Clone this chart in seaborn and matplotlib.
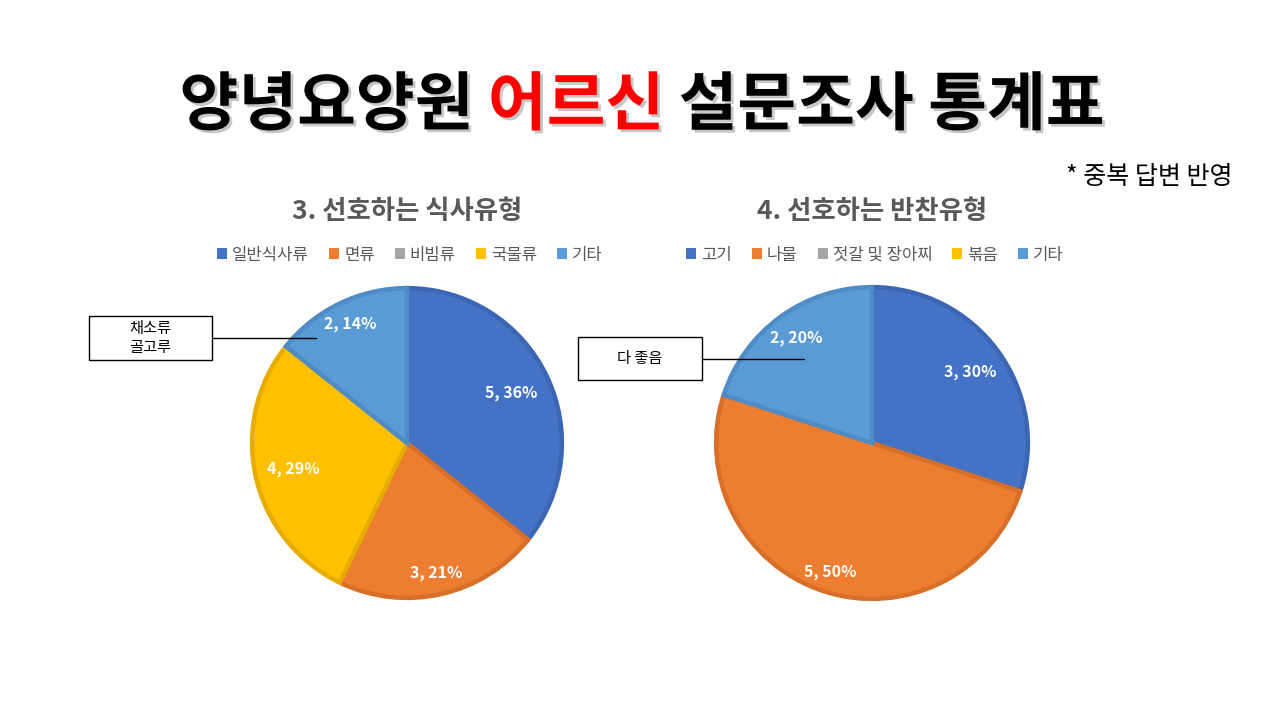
import numpy as np
import matplotlib
matplotlib.use("Agg")
import matplotlib.pyplot as plt
import matplotlib.patheffects as pe
from matplotlib.patches import Patch, Rectangle
from matplotlib.lines import Line2D
import seaborn as sns

# ── data ──────────────────────────────────────────────
meal_types = ["일반식사류", "면류", "비빔류", "국물류", "기타"]
meal_counts = [5, 3, 0, 4, 2]

side_types = ["고기", "나물", "젓갈 및 장아찌", "볶음", "기타"]
side_counts = [3, 5, 0, 0, 2]

title_parts = ["양녕요양원 ", "어르신", " 설문조사 통계표"]
meal_title = "3. 선호하는 식사유형"
side_title = "4. 선호하는 반찬유형"
note_text = "* 중복 답변 반영"
meal_callout = "채소류\n골고루"
side_callout = "다 좋음"

# ── style ─────────────────────────────────────────────
sns.set_theme(style="white")
plt.rcParams["font.family"] = ["Noto Sans CJK KR", "DejaVu Sans"]

FILL = sns.color_palette(["#4472C4", "#ED7D31", "#A5A5A5", "#FFC000", "#5B9BD5"])
EDGE = sns.color_palette(["#3B66B4", "#D86F28", "#8F8F8F", "#E6AC00", "#4F8BC4"])
GREY_TXT = "#595959"

W, H = 1280, 720
fig = plt.figure(figsize=(12.8, 7.2), dpi=100)
fig.patch.set_facecolor("white")


def fx(x):
    return x / W


def fy(y):
    return 1 - y / H


def draw_pie(cx, cy, r, cats, counts, label_r, subtitle):
    ax = fig.add_axes([fx(cx - r), fy(cy + r), 2 * r / W, 2 * r / H])
    idx = [i for i, c in enumerate(counts) if c > 0]
    vals = [counts[i] for i in idx]
    total = sum(counts)
    wedges, _ = ax.pie(vals, colors=[FILL[i] for i in idx], startangle=90,
                       counterclock=False, radius=1,
                       wedgeprops=dict(linewidth=3.2))
    for w, i in zip(wedges, idx):
        w.set_edgecolor(EDGE[i])
    for w, i, lr in zip(wedges, idx, label_r):
        ang = np.deg2rad((w.theta1 + w.theta2) / 2)
        pct = counts[i] / total * 100
        ax.text(lr * np.cos(ang), lr * np.sin(ang), f"{counts[i]}, {pct:.0f}%",
                ha="center", va="center", color="white", fontsize=11.5,
                fontweight="bold")
    ax.set_xlim(-1.02, 1.02)
    ax.set_ylim(-1.02, 1.02)
    ax.set_aspect("equal")
    ax.axis("off")

    fig.text(fx(cx), fy(211), subtitle, ha="center", va="center",
             fontsize=19, fontweight="bold", color=GREY_TXT)
    handles = [Patch(facecolor=FILL[i], edgecolor="none") for i in range(len(cats))]
    fig.legend(handles, cats, loc="center", bbox_to_anchor=(fx(cx + 3), fy(255)),
               ncol=len(cats), frameon=False, fontsize=12, labelcolor=GREY_TXT,
               handlelength=0.6, handleheight=0.6, handletextpad=0.3,
               columnspacing=1.2)
    return ax


draw_pie(407, 443, 158, meal_types, meal_counts, [0.75, 0.86, 0.75, 0.85],
         meal_title)
draw_pie(872, 443, 159, side_types, side_counts, [0.78, 0.87, 0.83],
         side_title)


def callout(x0, y0, x1, y1, text, end_x):
    fig.add_artist(Rectangle((fx(x0), fy(y1)), (x1 - x0) / W, (y1 - y0) / H,
                             transform=fig.transFigure, facecolor="white",
                             edgecolor="black", linewidth=1))
    fig.text(fx((x0 + x1) / 2), fy((y0 + y1) / 2), text, ha="center",
             va="center", fontsize=11, color="black", linespacing=1.15)
    ym = (y0 + y1) / 2
    fig.add_artist(Line2D([fx(x1), fx(end_x)], [fy(ym), fy(ym)],
                          transform=fig.transFigure, color="black", lw=1))


callout(89, 316, 212, 360, meal_callout, 316)
callout(578, 337, 702, 380, side_callout, 804)

# ── title (multi-colour) ──────────────────────────────
shadow = [pe.withSimplePatchShadow(offset=(2, -2), shadow_rgbFace="#A0A0A0",
                                   alpha=0.6)]
renderer = fig.canvas.get_renderer()
colors = ["black", "#FF0000", "black"]
pieces = []
for part, col in zip(title_parts, colors):
    t = fig.text(0, fy(106), part, ha="left", va="center", fontsize=46,
                 fontweight="heavy", color=col, path_effects=shadow)
    pieces.append(t)
widths = [t.get_window_extent(renderer).width for t in pieces]
x = (W - sum(widths)) / 2 + 2
for t, w in zip(pieces, widths):
    t.set_x(fx(x))
    x += w

fig.text(fx(1232), fy(177), note_text, ha="right", va="center",
         fontsize=18, color="black")

fig.savefig("out.png", dpi=100, facecolor="white")
